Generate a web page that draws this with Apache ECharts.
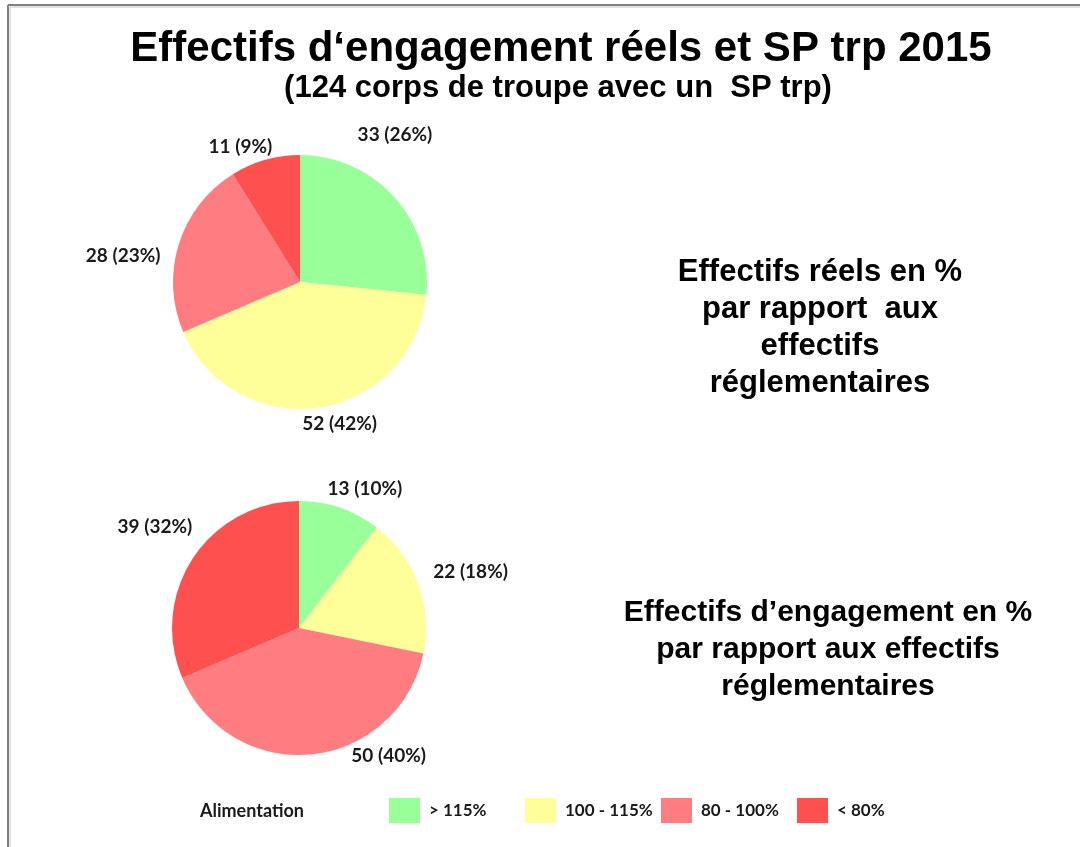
<!DOCTYPE html>
<html>
<head>
<meta charset="utf-8">
<script src="https://cdn.jsdelivr.net/npm/echarts@6/dist/echarts.min.js"></script>
<style>
  html, body { margin: 0; padding: 0; background: #ffffff; }
  #chart { width: 1080px; height: 847px; }
</style>
</head>
<body>
<div id="chart"></div>
<script>
// catégories (alimentation)
const categories = ['> 115%', '100 - 115%', '80 - 100%', '< 80%']
const sliceColors = ['#99ff99', '#ffff99', '#ff7c80', '#ff5050']

// effectifs réels
const reelsValues = [33, 52, 28, 11]
const reelsPercents = [26, 42, 23, 9]

// effectifs d'engagement
const engagementValues = [13, 22, 50, 39]
const engagementPercents = [10, 18, 40, 32]

const titleText = 'Effectifs d\u2018engagement réels et SP trp 2015'
const subtitleText = '(124 corps de troupe avec un  SP trp)'
const reelsCaption = 'Effectifs réels en %\npar rapport  aux\neffectifs\nréglementaires'
const engagementCaption = 'Effectifs d\u2019engagement en %\npar rapport aux effectifs\nréglementaires'
const legendTitle = 'Alimentation'

const labelFont = 'Lato, "Open Sans", sans-serif'
const headFont = '"Liberation Sans", Arial, sans-serif'

// décalage des étiquettes (placement "au mieux" comme dans Excel)
const labelNudges = [
  [[-52, -53], [-24, 3], [0, 16], [16, 0]],
  [[-22, -6], [-3, -7], [33, -12], [16, -24]]
]
// position gauche de chaque élément de légende
const legendLefts = [389, 525, 661, 797]

const buildPie = (values, percents, center, seriesIdx) => ({
  type: 'pie',
  center,
  radius: 127,
  startAngle: 90,
  clockwise: true,
  animation: false,
  silent: true,
  data: values.map((v, i) => ({
    name: categories[i],
    value: v,
    itemStyle: { color: sliceColors[i] }
  })),
  itemStyle: { borderWidth: 0 },
  label: {
    show: true,
    position: 'outside',
    formatter: (p) => `${p.value} (${percents[p.dataIndex]}%)`,
    color: '#1a1a1a',
    fontFamily: labelFont,
    fontWeight: 'bold',
    fontSize: 19
  },
  labelLine: { show: false, length: 14, length2: 0 },
  labelLayout: (params) => {
    const n = labelNudges[seriesIdx][params.dataIndex]
    return { dx: n[0], dy: n[1] }
  }
})

const caption = (text, x, y, size, lineHeight, vAlign) => ({
  type: 'text',
  x,
  y,
  silent: true,
  style: {
    text,
    fill: '#000000',
    fontFamily: headFont,
    fontWeight: 'bold',
    fontSize: size,
    lineHeight,
    align: 'center',
    verticalAlign: vAlign
  }
})

const buildOption = () => ({
  backgroundColor: '#ffffff',
  animation: false,
  legend: categories.map((c, i) => ({
    data: [c],
    left: legendLefts[i],
    top: 798,
    padding: 0,
    itemWidth: 31,
    itemHeight: 25,
    icon: 'rect',
    selectedMode: false,
    textStyle: {
      color: '#1a1a1a',
      fontFamily: labelFont,
      fontWeight: 'bold',
      fontSize: 17,
      padding: [0, 0, 0, 4]
    }
  })),
  series: [
    buildPie(reelsValues, reelsPercents, [300, 282], 0),
    buildPie(engagementValues, engagementPercents, [299, 628], 1)
  ],
  graphic: [
    // cadre
    { type: 'line', silent: true, shape: { x1: 8, y1: 5, x2: 1080, y2: 5 }, style: { stroke: '#808080', lineWidth: 2 } },
    { type: 'line', silent: true, shape: { x1: 8, y1: 5, x2: 8, y2: 847 }, style: { stroke: '#808080', lineWidth: 2 } },
    { type: 'line', silent: true, shape: { x1: 10, y1: 7, x2: 1080, y2: 7 }, style: { stroke: '#d8d8d8', lineWidth: 1.5 } },
    { type: 'line', silent: true, shape: { x1: 10, y1: 7, x2: 10, y2: 847 }, style: { stroke: '#d8d8d8', lineWidth: 1.5 } },
    caption(titleText, 561, 49, 42, 46, 'middle'),
    caption(subtitleText, 558, 88, 31, 36, 'middle'),
    caption(reelsCaption, 820, 254, 31, 37, 'top'),
    caption(engagementCaption, 828, 594, 30, 37, 'top'),
    {
      type: 'text',
      x: 200,
      y: 811,
      silent: true,
      style: {
        text: legendTitle,
        fill: '#1a1a1a',
        fontFamily: labelFont,
        fontWeight: 'bold',
        fontSize: 18,
        align: 'left',
        verticalAlign: 'middle'
      }
    }
  ]
})

const chart = echarts.init(document.getElementById('chart'))
chart.setOption(buildOption())
</script>
</body>
</html>
